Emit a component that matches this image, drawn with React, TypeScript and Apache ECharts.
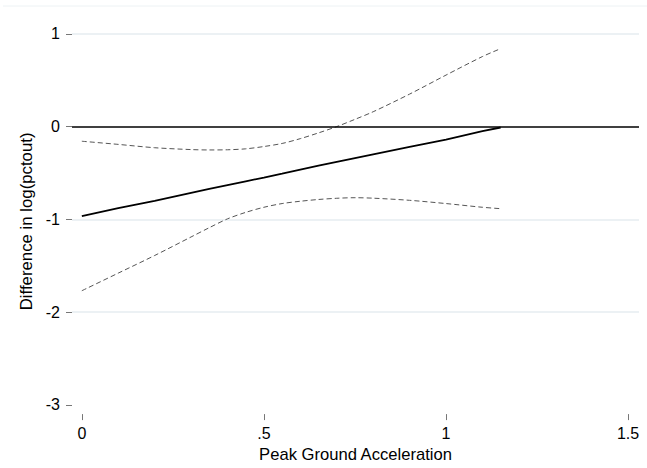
import React, { useEffect, useRef } from "react";
import * as echarts from "echarts";

const pga = [0, 0.1, 0.2, 0.3, 0.35, 0.4, 0.45, 0.5, 0.55, 0.6, 0.65, 0.7, 0.75, 0.8, 0.9, 1.0, 1.1, 1.15];
const diff = [-0.965, -0.88, -0.8, -0.715, -0.672, -0.63, -0.59, -0.55, -0.508, -0.465, -0.422, -0.38, -0.34, -0.3, -0.22, -0.14, -0.05, -0.01];
const upper = [-0.158, -0.192, -0.228, -0.248, -0.252, -0.25, -0.24, -0.215, -0.182, -0.13, -0.068, 0.0, 0.078, 0.16, 0.35, 0.555, 0.755, 0.84];
const lower = [-1.77, -1.58, -1.39, -1.19, -1.09, -0.995, -0.925, -0.87, -0.83, -0.805, -0.786, -0.773, -0.767, -0.772, -0.795, -0.83, -0.87, -0.885];
const xTicks = [0, 0.5, 1, 1.5];
const yTicks = [-3, -2, -1, 0, 1];
const gridValues = [1, -1, -2];

const fmtX = (v: number) => (v === 0.5 ? ".5" : String(v));

export default function App() {
  const ref = useRef<HTMLDivElement>(null);
  useEffect(() => {
    if (!ref.current) return;
    const chart = echarts.init(ref.current, undefined, { renderer: "svg" });
    const font = "Liberation Sans, Arial, sans-serif";
    const pairs = (ys: number[]) => pga.map((x, i) => [x, ys[i]]);
    chart.setOption({
      animation: false,
      backgroundColor: "#ffffff",
      grid: { left: 72, right: 8, top: 22.7, bottom: 52.7 },
      graphic: [
        {
          type: "line",
          shape: { x1: 3, y1: 6, x2: 647, y2: 6 },
          style: { stroke: "#edf2f4", lineWidth: 1 },
          silent: true,
        },
      ],
      xAxis: {
        type: "value",
        min: -0.027,
        max: 1.53,
        name: "Peak Ground Acceleration",
        nameLocation: "middle",
        nameGap: 28,
        nameTextStyle: { fontFamily: font, fontSize: 16.6, color: "#000" },
        axisLine: { show: false, onZero: false },
        axisTick: {
          show: true,
          inside: false,
          length: 6,
          customValues: xTicks,
          lineStyle: { color: "#777", width: 1 },
        },
        axisLabel: {
          customValues: xTicks,
          formatter: (v: number) => fmtX(v),
          fontFamily: font,
          fontSize: 16,
          color: "#000",
          margin: 11,
        },
        splitLine: { show: false },
      },
      yAxis: {
        type: "value",
        min: -3.1,
        max: 1.12,
        name: "Difference in log(pctout)",
        nameLocation: "middle",
        nameGap: 29,
        nameTextStyle: { fontFamily: font, fontSize: 16.8, color: "#000", padding: [0, 6, 0, 0] },
        axisLine: { show: false, onZero: false },
        axisTick: {
          show: true,
          inside: false,
          length: 6,
          customValues: yTicks,
          lineStyle: { color: "#777", width: 1 },
        },
        axisLabel: {
          customValues: yTicks,
          fontFamily: font,
          fontSize: 16,
          color: "#000",
          margin: 12,
        },
        splitLine: { show: false },
      },
      series: [
        {
          type: "line",
          data: pairs(lower),
          showSymbol: false,
          smooth: 0.3,
          lineStyle: { color: "#555", width: 1, type: [5, 3] },
          z: 3,
          markLine: {
            silent: true,
            symbol: "none",
            label: { show: false },
            lineStyle: { color: "#e6edf0", width: 1.5, type: "solid" },
            data: gridValues.map((v) => ({ yAxis: v })),
            z: 1,
          },
        },
        {
          type: "line",
          data: pairs(upper),
          showSymbol: false,
          smooth: 0.3,
          lineStyle: { color: "#555", width: 1, type: [5, 3] },
          z: 3,
        },
        {
          type: "line",
          data: pairs(diff),
          showSymbol: false,
          lineStyle: { color: "#000", width: 1.8 },
          z: 4,
          markLine: {
            silent: true,
            symbol: "none",
            label: { show: false },
            lineStyle: { color: "#000", width: 1.5, type: "solid" },
            data: [{ yAxis: 0 }],
          },
        },
      ],
    });
    return () => chart.dispose();
  }, []);
  return <div ref={ref} style={{ width: 647, height: 468, position: "absolute", left: 0, top: 0 }} />;
}
